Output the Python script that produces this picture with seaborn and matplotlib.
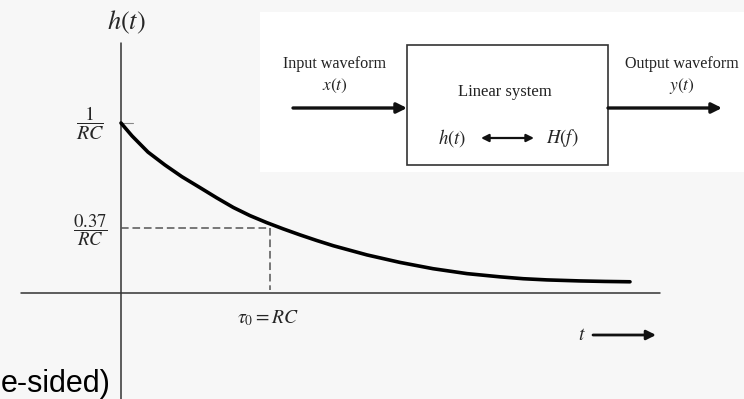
import matplotlib
matplotlib.use("Agg")
import matplotlib.pyplot as plt
import seaborn as sns
import pandas as pd
from matplotlib.patches import Rectangle

# ---- data (t in units of RC, h in units of 1/RC) ----
t_vals = [0.0, 0.074, 0.181, 0.295, 0.409, 0.530, 0.642, 0.754, 0.866, 0.978,
          1.089, 1.201, 1.313, 1.425, 1.651, 1.872, 2.094, 2.322, 2.544, 2.70,
          2.859, 3.081, 3.25, 3.416]
h_vals = [1.0, 0.924, 0.829, 0.753, 0.684, 0.620, 0.560, 0.503, 0.455, 0.414,
          0.377, 0.342, 0.309, 0.278, 0.224, 0.180, 0.143, 0.114, 0.095, 0.084,
          0.077, 0.071, 0.068, 0.066]
tau0 = 1.0          # time constant RC
h_tau = 0.382       # drawn level of 0.37/RC
y_labels = [r"$\dfrac{1}{RC}$", r"$\dfrac{0.37}{RC}$"]
y_label_vals = [1.0, h_tau]

sns.set_style("white")
plt.rcParams["mathtext.fontset"] = "stix"
plt.rcParams["font.family"] = ["Liberation Serif", "DejaVu Serif"]

W, H = 744, 399
fig = plt.figure(figsize=(W / 100, H / 100), dpi=100)
fig.patch.set_facecolor("#f7f7f7")
ax = fig.add_axes([0, 0, 1, 1])
ax.set_facecolor("#f7f7f7")

# pixel -> data helper (origin of the plot at pixel 121,293)
X0, Y0, SX, SY = 121, 293, 149, 170
def P(xp, yp):
    return ((xp - X0) / SX, (Y0 - yp) / SY)

ax.set_xlim(P(0, 0)[0], P(W, 0)[0])
ax.set_ylim(P(0, H)[1], P(0, 0)[1])
ax.axis("off")

# white panel behind block diagram
x1, y1 = P(260, 172)
x2, y2 = P(744, 12)
ax.add_patch(Rectangle((x1, y1), x2 - x1, y2 - y1, facecolor="white",
                       edgecolor="none", zorder=0))

# axes lines
ax.plot([0, 0], [P(0, 43)[1], P(0, H)[1]], color="#333333", lw=1.1, zorder=2)
ax.plot([P(21, 0)[0], P(660, 0)[0]], [0, 0], color="#333333", lw=1.1, zorder=2)
ax.plot([0, P(133, 0)[0]], [1.0, 1.0], color="#888888", lw=0.8, zorder=2)

# dashed guides
ax.plot([0, tau0], [h_tau, h_tau], color="#555555", lw=1.1,
        linestyle=(0, (5, 2.5)), zorder=2)
ax.plot([tau0, tau0], [h_tau, P(0, 290)[1]], color="#555555", lw=1.1,
        linestyle=(0, (5, 2.5)), zorder=2)

# curve
df = pd.DataFrame({"t": t_vals, "h": h_vals})
sns.lineplot(data=df, x="t", y="h", ax=ax, color="black", lw=2.6, zorder=3,
             estimator=None, sort=False)
ax.set_xlabel("")
ax.set_ylabel("")

# labels
ax.text(*P(126, 22), r"$h(t)$", ha="center", va="center", fontsize=19)
ax.text(P(90, 0)[0], y_label_vals[0], y_labels[0], ha="center", va="center",
        fontsize=14.5)
ax.text(P(90, 0)[0], y_label_vals[1] - 0.01, y_labels[1], ha="center",
        va="center", fontsize=13.5)
ax.text(*P(268, 318), r"$\tau_0 = RC$", ha="center", va="center", fontsize=14)
ax.text(*P(582, 335), r"$t$", ha="center", va="center", fontsize=14)
ax.annotate("", xy=P(656, 335), xytext=P(593, 335),
            arrowprops=dict(arrowstyle="-|>", lw=2.0, color="#111111",
                            mutation_scale=14, shrinkA=0, shrinkB=0))

# block diagram
bx1, by1 = P(407, 165)
bx2, by2 = P(608, 45)
ax.add_patch(Rectangle((bx1, by1), bx2 - bx1, by2 - by1, facecolor="white",
                       edgecolor="#333333", lw=1.2, zorder=2))
ax.annotate("", xy=P(407, 108), xytext=P(293, 108),
            arrowprops=dict(arrowstyle="-|>", lw=2.4, color="#111111",
                            mutation_scale=15, shrinkA=0, shrinkB=0))
ax.annotate("", xy=P(722, 108), xytext=P(608, 108),
            arrowprops=dict(arrowstyle="-|>", lw=2.4, color="#111111",
                            mutation_scale=15, shrinkA=0, shrinkB=0))
ax.annotate("", xy=P(534, 138), xytext=P(481, 138),
            arrowprops=dict(arrowstyle="<|-|>", lw=1.6, color="#111111",
                            mutation_scale=11, shrinkA=0, shrinkB=0))

ax.text(*P(335, 64), "Input waveform", ha="center", va="center", fontsize=11.6,
        color="#222222")
ax.text(*P(335, 86), r"$x(t)$", ha="center", va="center", fontsize=12.5)
ax.text(*P(682, 64), "Output waveform", ha="center", va="center", fontsize=11.6,
        color="#222222")
ax.text(*P(682, 86), r"$y(t)$", ha="center", va="center", fontsize=12.5)
ax.text(*P(505, 92), "Linear system", ha="center", va="center", fontsize=12,
        color="#222222")
ax.text(*P(452, 138), r"$h(t)$", ha="center", va="center", fontsize=13.5)
ax.text(*P(562, 138), r"$H(f)$", ha="center", va="center", fontsize=13.5)

# cropped slide text
ax.text(*P(111, 392), "e-sided)", ha="right", va="baseline", fontsize=22,
        family=["Liberation Sans", "DejaVu Sans"], color="black")

fig.savefig("out.png", dpi=100, facecolor=fig.get_facecolor())
